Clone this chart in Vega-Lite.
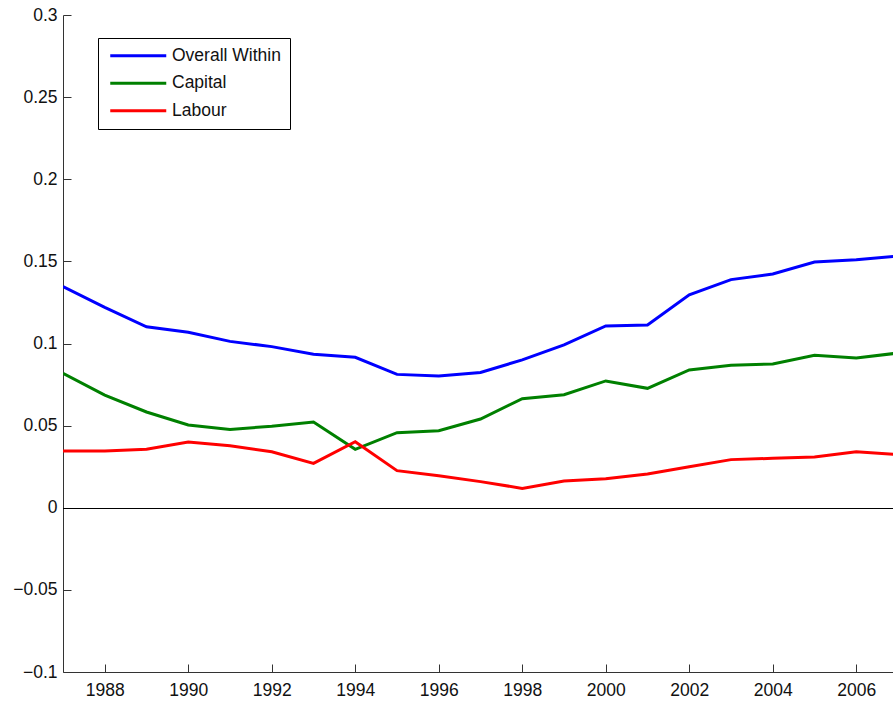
{
  "$schema": "https://vega.github.io/schema/vega-lite/v6.json",
  "width": 830,
  "height": 657,
  "autosize": {"type": "none"},
  "padding": {"left": 63, "top": 15, "right": 0, "bottom": 30},
  "background": "white",
  "config": {
    "view": {"stroke": null},
    "font": "Liberation Sans",
    "axis": {
      "domainColor": "#333333",
      "tickColor": "#333333",
      "labelColor": "#111111",
      "labelFont": "Liberation Sans",
      "labelFontSize": 17.5,
      "grid": false,
      "title": null,
      "tickSize": -8
    }
  },
  "data": {
    "values": [
      {"year": 1987, "series": "Overall Within", "value": 0.1346},
      {"year": 1988, "series": "Overall Within", "value": 0.1220},
      {"year": 1989, "series": "Overall Within", "value": 0.1102},
      {"year": 1990, "series": "Overall Within", "value": 0.1068},
      {"year": 1991, "series": "Overall Within", "value": 0.1013},
      {"year": 1992, "series": "Overall Within", "value": 0.0981},
      {"year": 1993, "series": "Overall Within", "value": 0.0934},
      {"year": 1994, "series": "Overall Within", "value": 0.0916},
      {"year": 1995, "series": "Overall Within", "value": 0.0812},
      {"year": 1996, "series": "Overall Within", "value": 0.0802},
      {"year": 1997, "series": "Overall Within", "value": 0.0824},
      {"year": 1998, "series": "Overall Within", "value": 0.0900},
      {"year": 1999, "series": "Overall Within", "value": 0.0991},
      {"year": 2000, "series": "Overall Within", "value": 0.1107},
      {"year": 2001, "series": "Overall Within", "value": 0.1113},
      {"year": 2002, "series": "Overall Within", "value": 0.1297},
      {"year": 2003, "series": "Overall Within", "value": 0.1389},
      {"year": 2004, "series": "Overall Within", "value": 0.1423},
      {"year": 2005, "series": "Overall Within", "value": 0.1496},
      {"year": 2006, "series": "Overall Within", "value": 0.1510},
      {"year": 2007, "series": "Overall Within", "value": 0.1532},
      {"year": 1987, "series": "Capital", "value": 0.0818},
      {"year": 1988, "series": "Capital", "value": 0.0686},
      {"year": 1989, "series": "Capital", "value": 0.0583},
      {"year": 1990, "series": "Capital", "value": 0.0504},
      {"year": 1991, "series": "Capital", "value": 0.0477},
      {"year": 1992, "series": "Capital", "value": 0.0496},
      {"year": 1993, "series": "Capital", "value": 0.0522},
      {"year": 1994, "series": "Capital", "value": 0.0356},
      {"year": 1995, "series": "Capital", "value": 0.0457},
      {"year": 1996, "series": "Capital", "value": 0.0469},
      {"year": 1997, "series": "Capital", "value": 0.0540},
      {"year": 1998, "series": "Capital", "value": 0.0664},
      {"year": 1999, "series": "Capital", "value": 0.0688},
      {"year": 2000, "series": "Capital", "value": 0.0772},
      {"year": 2001, "series": "Capital", "value": 0.0727},
      {"year": 2002, "series": "Capital", "value": 0.0839},
      {"year": 2003, "series": "Capital", "value": 0.0867},
      {"year": 2004, "series": "Capital", "value": 0.0875},
      {"year": 2005, "series": "Capital", "value": 0.0928},
      {"year": 2006, "series": "Capital", "value": 0.0912},
      {"year": 2007, "series": "Capital", "value": 0.0942},
      {"year": 1987, "series": "Labour", "value": 0.0345},
      {"year": 1988, "series": "Labour", "value": 0.0346},
      {"year": 1989, "series": "Labour", "value": 0.0356},
      {"year": 1990, "series": "Labour", "value": 0.0400},
      {"year": 1991, "series": "Labour", "value": 0.0378},
      {"year": 1992, "series": "Labour", "value": 0.0341},
      {"year": 1993, "series": "Labour", "value": 0.0270},
      {"year": 1994, "series": "Labour", "value": 0.0402},
      {"year": 1995, "series": "Labour", "value": 0.0226},
      {"year": 1996, "series": "Labour", "value": 0.0195},
      {"year": 1997, "series": "Labour", "value": 0.0159},
      {"year": 1998, "series": "Labour", "value": 0.0118},
      {"year": 1999, "series": "Labour", "value": 0.0163},
      {"year": 2000, "series": "Labour", "value": 0.0177},
      {"year": 2001, "series": "Labour", "value": 0.0205},
      {"year": 2002, "series": "Labour", "value": 0.0250},
      {"year": 2003, "series": "Labour", "value": 0.0293},
      {"year": 2004, "series": "Labour", "value": 0.0301},
      {"year": 2005, "series": "Labour", "value": 0.0309},
      {"year": 2006, "series": "Labour", "value": 0.0341},
      {"year": 2007, "series": "Labour", "value": 0.0323}
    ]
  },
  "layer": [
    {
      "mark": {"type": "rule", "color": "black", "strokeWidth": 1, "yOffset": 0.75},
      "encoding": {"y": {"datum": 0, "type": "quantitative"}}
    },
    {
      "mark": {"type": "line", "strokeWidth": 3, "clip": true},
      "encoding": {
        "x": {
          "field": "year",
          "type": "quantitative",
          "scale": {"domain": [1987, 2006.88], "nice": false, "zero": false},
          "axis": {
            "values": [1988, 1990, 1992, 1994, 1996, 1998, 2000, 2002, 2004, 2006],
            "format": "d",
            "labelPadding": 17,
            "labelFlush": false
          }
        },
        "y": {
          "field": "value",
          "type": "quantitative",
          "scale": {"domain": [-0.1, 0.3], "nice": false, "zero": false},
          "axis": {
            "values": [-0.1, -0.05, 0, 0.05, 0.1, 0.15, 0.2, 0.25, 0.3],
            "format": ".2~f",
            "labelPadding": 14,
            "labelFlush": false
          }
        },
        "color": {
          "field": "series",
          "type": "nominal",
          "scale": {
            "domain": ["Overall Within", "Capital", "Labour"],
            "range": ["#0000ff", "#008000", "#ff0000"]
          },
          "legend": {
            "title": null,
            "orient": "none",
            "legendX": 35,
            "legendY": 23,
            "direction": "vertical",
            "strokeColor": "black",
            "fillColor": "white",
            "padding": 9,
            "symbolType": "M-5.6,0H5.6",
            "symbolSize": 100,
            "symbolStrokeWidth": 3,
            "symbolOffset": 22.5,
            "labelOffset": 25,
            "labelFontSize": 17.5,
            "labelFont": "Liberation Sans",
            "labelColor": "#111111",
            "rowPadding": 8.5
          }
        }
      }
    }
  ]
}
